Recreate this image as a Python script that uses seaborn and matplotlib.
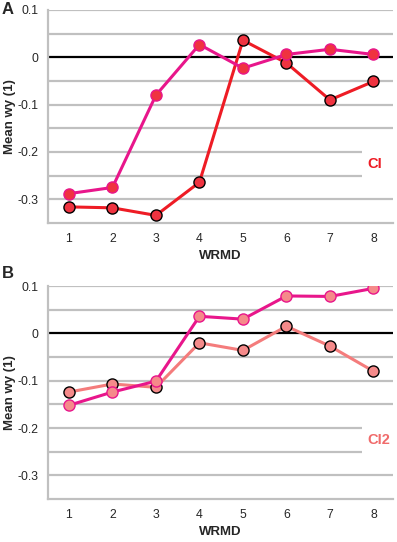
import numpy as np
import pandas as pd
import matplotlib
matplotlib.use("Agg")
import matplotlib.pyplot as plt
import seaborn as sns

# ---- data ----
wrmd = [1, 2, 3, 4, 5, 6, 7, 8]
a_magenta = [-0.288, -0.275, -0.080, 0.027, -0.023, 0.006, 0.017, 0.006]
a_red = [-0.316, -0.318, -0.334, -0.264, 0.036, -0.012, -0.090, -0.051]
b_salmon = [-0.124, -0.107, -0.114, -0.020, -0.036, 0.015, -0.027, -0.080]
b_magenta = [-0.152, -0.124, -0.101, 0.036, 0.030, 0.079, 0.078, 0.095]
yticks = [0.1, 0, -0.1, -0.2, -0.3]
ytick_labels = ["0.1", "0", "-0.1", "-0.2", "-0.3"]

MAGENTA = "#e8168b"
RED = "#ee1c25"
RED_FILL = "#ef3340"
SALMON = "#f47c7c"
SALMON_FILL = "#f58a8a"
GRID = "#c0c0c0"

sns.set_theme(style="white")
plt.rcParams['font.family'] = ['Liberation Sans', 'DejaVu Sans']

fig = plt.figure(figsize=(3.97, 5.42), dpi=100)
ax_a = fig.add_axes([0.121, 0.5886, 0.869, 0.393])
ax_b = fig.add_axes([0.121, 0.0793, 0.869, 0.393])


def style_axis(ax, label, label_color):
    ax.set_xlim(0.52, 8.45)
    ax.set_ylim(-0.35, 0.1)
    for y in [0.1, 0.05, -0.05, -0.1, -0.15, -0.3]:
        ax.axhline(y, color=GRID, lw=1.6, zorder=1)
    ax.hlines([-0.2, -0.25], 0.52, 7.74, color=GRID, lw=1.6, zorder=1)
    ax.axhline(0, color="black", lw=1.6, zorder=2)
    for s in ["top", "right"]:
        ax.spines[s].set_visible(False)
    for s in ["left", "bottom"]:
        ax.spines[s].set_color(GRID)
        ax.spines[s].set_linewidth(1.6)
    ax.set_xticks(wrmd)
    ax.set_yticks(yticks)
    ax.set_yticklabels(ytick_labels)
    ax.tick_params(axis="both", which="both", direction="out", length=4,
                   width=1.2, color=GRID, labelsize=8.8, pad=3)
    ax.set_xlabel("WRMD", fontsize=9.5, fontweight="bold", labelpad=4)
    ax.set_ylabel("Mean wy (1)", fontsize=9.5, fontweight="bold")
    ax.yaxis.set_label_coords(-0.093, 0.5)
    ax.text(7.85, -0.225, label, color=label_color, fontsize=10.5,
            fontweight="bold", va="center", ha="left")


# panel A
sns.lineplot(x=wrmd, y=a_red, ax=ax_a, color=RED, lw=2.2, marker="o",
             markersize=8, markerfacecolor=RED_FILL, markeredgecolor="black",
             markeredgewidth=1.0, zorder=3)
sns.lineplot(x=wrmd, y=a_magenta, ax=ax_a, color=MAGENTA, lw=2.2, marker="o",
             markersize=8, markerfacecolor=RED_FILL, markeredgecolor=MAGENTA,
             markeredgewidth=1.0, zorder=4)
style_axis(ax_a, "CI", RED)

# panel B
sns.lineplot(x=wrmd, y=b_salmon, ax=ax_b, color=SALMON, lw=2.2, marker="o",
             markersize=8, markerfacecolor=SALMON_FILL, markeredgecolor="black",
             markeredgewidth=1.0, zorder=3)
sns.lineplot(x=wrmd, y=b_magenta, ax=ax_b, color=MAGENTA, lw=2.2, marker="o",
             markersize=8, markerfacecolor=SALMON_FILL, markeredgecolor=MAGENTA,
             markeredgewidth=1.0, zorder=4)
style_axis(ax_b, "CI2", "#f06b6b")

fig.text(0.005, 0.997, "A", fontsize=12, fontweight="bold", va="top")
fig.text(0.005, 0.509, "B", fontsize=12, fontweight="bold", va="top")

fig.savefig("out.png", dpi=100)
